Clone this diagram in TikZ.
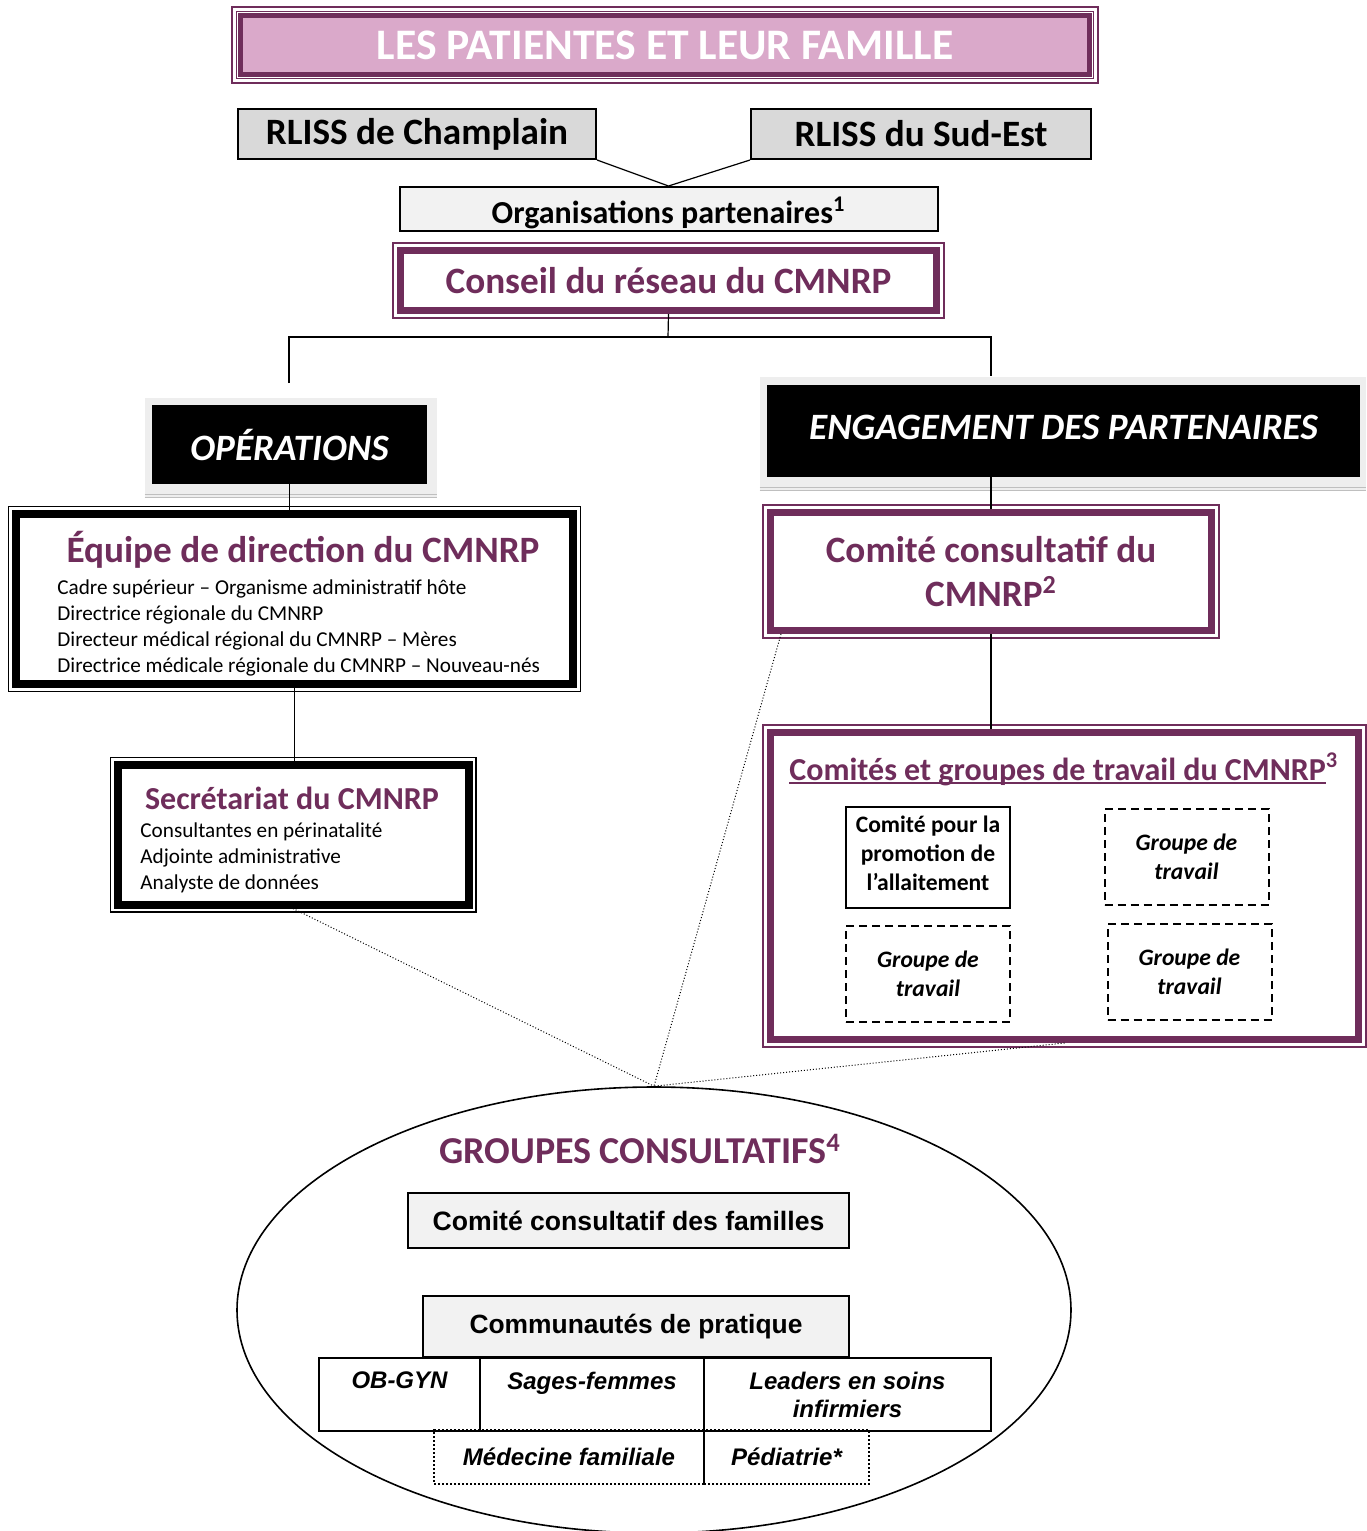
\documentclass[tikz,border=0pt]{standalone}
\usepackage{fontspec}
\setmainfont{Carlito}
\newfontfamily\arialfont{Liberation Sans}
\usetikzlibrary{shapes.geometric,backgrounds,calc}

\definecolor{cmpurple}{RGB}{111,45,91}
\definecolor{cmpink}{RGB}{218,169,202}
\definecolor{rlissgray}{RGB}{217,217,217}
\definecolor{palegray}{RGB}{242,242,242}
\definecolor{halogray}{RGB}{238,238,238}

\newcommand{\fsz}[2]{\fontsize{#1pt}{#2pt}\selectfont}
\newcommand{\baseul}[1]{\setbox0\hbox{#1}\rlap{\rule[-2pt]{\wd0}{0.9pt}}\box0}

\begin{document}
\begin{tikzpicture}[x=0.5pt, y=-0.5pt,
    purplebox/.style = {draw=cmpurple, line width=3.5pt, fill=white, inner sep=0pt,
        append after command={\pgfextra{\draw[cmpurple, line width=0.6pt]
        ([shift={(-2pt,2pt)}]\tikzlastnode.north west) rectangle
        ([shift={(2pt,-2pt)}]\tikzlastnode.south east);}}},
    blackframe/.style = {draw=black, line width=4pt, fill=white, inner sep=0pt,
        append after command={\pgfextra{\draw[black, line width=0.6pt]
        ([shift={(-1.7pt,1.7pt)}]\tikzlastnode.north west) rectangle
        ([shift={(1.7pt,-1.7pt)}]\tikzlastnode.south east);}}},
    banner/.style = {fill=black, text=white, inner sep=0pt, font=\fsz{18.6}{22}\bfseries\itshape},
    greybox/.style = {draw, line width=1pt, inner sep=0pt},
    subbox/.style = {draw, line width=1pt, inner sep=0pt, align=center,
        minimum width=82pt, font=\fsz{11.8}{14.5}\bfseries},
    wgroup/.style = {subbox, dash pattern=on 4pt off 2.5pt, font=\fsz{11.8}{14.5}\bfseries\itshape},
    cop/.style = {draw, line width=1pt, inner sep=0pt, align=center, minimum height=36.5pt,
        font=\arialfont\fsz{12}{14}\bfseries\itshape},
    copdot/.style = {cop, densely dotted, line width=0.6pt, minimum height=27pt},
    link/.style = {line width=0.6pt},
    dotlink/.style = {line width=0.5pt, densely dotted}]
  \useasboundingbox (0,0) rectangle (1366,1531);

  % patients and partners
  \node [purplebox, fill=cmpink, minimum width=425.5pt, minimum height=30.5pt,
         text=white, font=\fsz{21.8}{24}\bfseries] (patients) at (665,45) {LES PATIENTES ET LEUR FAMILLE};
  \draw [white, line width=0.5pt] ([shift={(0.6pt,-0.6pt)}]patients.north west) rectangle ([shift={(-0.6pt,0.6pt)}]patients.south east);
  \node [greybox, fill=rlissgray, minimum width=179pt, minimum height=25pt,
         font=\fsz{18.6}{22}\bfseries] (champlain) at (417,134) {RLISS de Champlain};
  \node [greybox, fill=rlissgray, minimum width=170pt, minimum height=25pt,
         font=\fsz{18.6}{22}\bfseries] (sudest) at (921,134) {RLISS du Sud-Est};
  \node [greybox, fill=palegray, minimum width=269pt, minimum height=22pt, text height=14.6pt, text depth=0pt,
         font=\fsz{16}{19}\bfseries] (partenaires) at (668.5,209) {Organisations partenaires\textsuperscript{1}};
  \node [purplebox, minimum width=268pt, minimum height=30pt, text=cmpurple,
         font=\fsz{18.6}{22}\bfseries] (conseil) at (668.5,280.5) {Conseil du réseau du CMNRP};

  % two branches
  \node [banner, minimum width=137.5pt, minimum height=39.5pt] (operations) at (289.5,444.5) {OPÉRATIONS};
  \node [banner, minimum width=296.5pt, minimum height=46pt, text height=12pt, text depth=4pt] (engagement) at (1063.5,431) {ENGAGEMENT DES PARTENAIRES};

  % operations side
  \node [blackframe, minimum width=278.5pt, minimum height=85pt] (direction) at (294.5,599) {};
  \node [text=cmpurple, font=\fsz{18.6}{22}\bfseries, inner sep=0pt] (direction title) at (303,550) {Équipe de direction du CMNRP};
  \node [align=left, anchor=north west, inner sep=0pt, font=\fsz{10.6}{13}] (direction staff) at (57,579)
        {Cadre supérieur – Organisme administratif hôte\\ Directrice régionale du CMNRP\\
         Directeur médical régional du CMNRP – Mères\\ Directrice médicale régionale du CMNRP – Nouveau-nés};
  \node [blackframe, minimum width=175.5pt, minimum height=70pt] (secretariat) at (293,834.5) {};
  \node [text=cmpurple, font=\fsz{16}{19}\bfseries, inner sep=0pt] (secretariat title) at (292,798) {Secrétariat du CMNRP};
  \node [align=left, anchor=north west, inner sep=0pt, font=\fsz{10.6}{13}] (secretariat staff) at (140,822)
        {Consultantes en périnatalité\\ Adjointe administrative\\ Analyste de données};

  % engagement side
  \node [purplebox, minimum width=220.5pt, minimum height=59pt, align=center, text=cmpurple,
         font=\fsz{18.6}{22}\bfseries] (consultatif) at (991,571.5) {Comité consultatif du\\ CMNRP\textsuperscript{2}};
  \node [purplebox, minimum width=294pt, minimum height=153.5pt] (comites) at (1064.5,886) {};
  \node [anchor=base west, inner sep=0pt, text=cmpurple, font=\fsz{16}{19}\bfseries] (comites title) at (789,780)
        {\baseul{Comités et groupes de travail du CMNRP}\textsuperscript{3}};
  \node [subbox, minimum height=50.5pt] (allaitement) at (928,857.5) {};
  \node [align=center, inner sep=0pt, font=\fsz{11.8}{14.5}\bfseries] (allaitement text) at (928,853) {Comité pour la\\ promotion de\\ l’allaitement};
  \node [wgroup, minimum height=48pt] (groupe a) at (1186.5,857) {Groupe de\\ travail};
  \node [wgroup, minimum height=48pt] (groupe b) at (928,974) {Groupe de\\ travail};
  \node [wgroup, minimum height=48pt] (groupe c) at (1189.5,972) {Groupe de\\ travail};

  % advisory groups
  \node [ellipse, draw, line width=0.8pt, minimum width=417pt, minimum height=223pt, inner sep=0pt] (groupes) at (654,1310) {};
  \node [text=cmpurple, font=\fsz{19}{22}\bfseries, inner sep=0pt] (groupes title) at (640,1149) {GROUPES CONSULTATIFS\textsuperscript{4}};
  \node [greybox, fill=palegray, minimum width=220.5pt, minimum height=27.5pt,
         font=\arialfont\fsz{13.3}{16}\bfseries] (familles) at (628.5,1220.5) {Comité consultatif des familles};
  \node [greybox, fill=palegray, minimum width=213pt, minimum height=30.5pt,
         font=\arialfont\fsz{13.2}{16}\bfseries] (pratique) at (636,1326.5) {Communautés de pratique};
  \node [cop, minimum width=80.5pt] (obgyn) at (399.5,1394.5) {OB-GYN\\ \phantom{i}};
  \node [cop, minimum width=112pt] (sagesfemmes) at (592,1394.5) {Sages-femmes\\ \phantom{i}};
  \node [cop, minimum width=143.5pt] (infirmiers) at (847.5,1394.5) {Leaders en soins\\ infirmiers};
  \node [copdot, minimum width=135pt] (medfam) at (569,1457) {Médecine familiale};
  \node [copdot, minimum width=82.5pt] (pediatrie) at (786.5,1457) {Pédiatrie*};

  % connectors
  \coordinate (split) at (668,337);
  \coordinate (ops top) at (289,383);
  \coordinate (eng top) at (991,376);
  \draw [link] (champlain.south east) -- (partenaires.north);
  \draw [link] (sudest.south west) -- (partenaires.north);
  \draw [link] (conseil.south) -- (split);
  \draw [link] (ops top) |- (split) -| (eng top);
  \draw [link] (operations.south) -- (operations.south |- direction.north);
  \draw [link] (direction.south) -- (direction.south |- secretariat.north);
  \draw [link] (consultatif.north) -- (consultatif.north |- engagement.south);
  \draw [link] (consultatif.south) -- (consultatif.south |- comites.north);
  \draw [dotlink] (secretariat.south) -- (groupes.north);
  \draw [dotlink] ($(consultatif.south west)+(14,0)$) -- (groupes.north);
  \draw [dotlink] (comites.south) -- (groupes.north);

  % halos behind the banners
  \begin{pgfonlayer}{background}
    \fill [halogray] ([shift={(-3.5pt,3.5pt)}]operations.north west) rectangle ([shift={(5pt,-6.5pt)}]operations.south east);
    \draw [gray!50, line width=0.5pt] ([shift={(-3.5pt,-5pt)}]operations.south west) -- ([shift={(5pt,-5pt)}]operations.south east);
    \draw [gray!50, line width=0.5pt] ([shift={(-3.5pt,-6.3pt)}]operations.south west) -- ([shift={(5pt,-6.3pt)}]operations.south east);
    \fill [halogray] ([shift={(-3.5pt,4pt)}]engagement.north west) rectangle ([shift={(3pt,-6.5pt)}]engagement.south east);
    \draw [gray!50, line width=0.5pt] ([shift={(-3.5pt,-5pt)}]engagement.south west) -- ([shift={(3pt,-5pt)}]engagement.south east);
    \draw [gray!50, line width=0.5pt] ([shift={(-3.5pt,-6.3pt)}]engagement.south west) -- ([shift={(3pt,-6.3pt)}]engagement.south east);
  \end{pgfonlayer}
\end{tikzpicture}
\end{document}
